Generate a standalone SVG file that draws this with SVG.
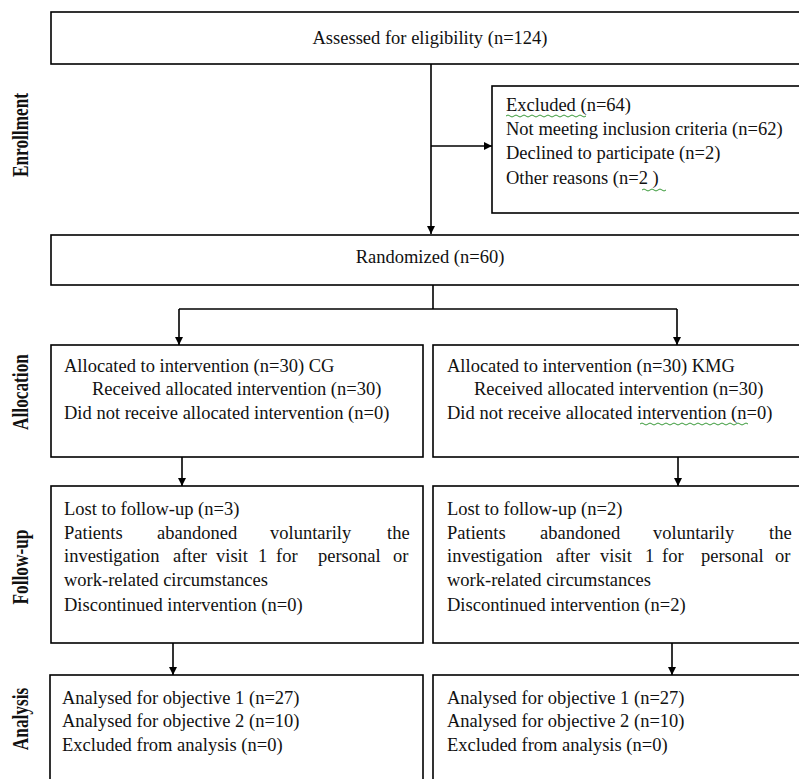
<svg xmlns="http://www.w3.org/2000/svg" width="799" height="779" viewBox="0 0 799 779">
<style>
.box{fill:#fff;stroke:#000;stroke-width:1.6}
.t{font-family:"Liberation Serif","Times New Roman",serif;font-size:18.5px;fill:#111}
.c{text-anchor:middle}
.lbl{font-family:"Liberation Serif","Times New Roman",serif;font-size:24px;font-weight:bold;fill:#111;text-anchor:middle}
.ln{fill:none;stroke:#000;stroke-width:1.6}
.sq{fill:none;stroke:#3a9a3a;stroke-width:1}
</style>
<defs>
<marker id="ah" markerWidth="8" markerHeight="8" refX="8" refY="4" orient="auto" markerUnits="userSpaceOnUse">
<path d="M0,0 L8,4 L0,8 Z" fill="#000"/>
</marker>
</defs>
<rect width="799" height="779" fill="#fff"/>

<g id="labels">
<text class="lbl" transform="translate(28,135) rotate(-90) scale(0.72,1)">Enrollment</text>
<text class="lbl" transform="translate(28,392) rotate(-90) scale(0.72,1)">Allocation</text>
<text class="lbl" transform="translate(28,567) rotate(-90) scale(0.72,1)">Follow-up</text>
<text class="lbl" transform="translate(28,719) rotate(-90) scale(0.72,1)">Analysis</text>
</g>

<g id="connectors">
<line class="ln" x1="431" y1="64" x2="431" y2="234" marker-end="url(#ah)"/>
<line class="ln" x1="431" y1="146" x2="492" y2="146" marker-end="url(#ah)"/>
<line class="ln" x1="433" y1="285" x2="433" y2="309"/>
<line class="ln" x1="179" y1="309" x2="677" y2="309"/>
<line class="ln" x1="179" y1="309" x2="179" y2="345" marker-end="url(#ah)"/>
<line class="ln" x1="677" y1="309" x2="677" y2="345" marker-end="url(#ah)"/>
<line class="ln" x1="182" y1="457" x2="182" y2="486" marker-end="url(#ah)"/>
<line class="ln" x1="678" y1="457" x2="678" y2="486" marker-end="url(#ah)"/>
<line class="ln" x1="173" y1="643" x2="173" y2="675" marker-end="url(#ah)"/>
<line class="ln" x1="672" y1="643" x2="672" y2="675" marker-end="url(#ah)"/>
</g>

<g id="assessed">
<rect class="box" x="51" y="12" width="760" height="52"/>
<text class="t c" x="430" y="44">Assessed for eligibility (n=124)</text>
</g>

<g id="excluded">
<rect class="box" x="492" y="86" width="320" height="127"/>
<text class="t" x="506" y="111">Excluded  (n=64)</text>
<text class="t" x="506" y="135">Not meeting inclusion criteria (n=62)</text>
<text class="t" x="506" y="159">Declined to participate (n=2)</text>
<text class="t" x="506" y="184">Other reasons (n=2 )</text>
<path class="sq" d="M506,116 q2,-2 4,0 t4,0 t4,0 t4,0 t4,0 t4,0 t4,0 t4,0 t4,0 t4,0 t4,0 t4,0 t4,0 t4,0 t4,0 t4,0 t4,0 t4,0 t4,0 t4,0"/>
<path class="sq" d="M642,190 q2,-2 4,0 t4,0 t4,0 t4,0 t4,0 t4,0"/>
</g>

<g id="randomized">
<rect class="box" x="51" y="235" width="760" height="50"/>
<text class="t c" x="430" y="263">Randomized (n=60)</text>
</g>

<g id="alloc-cg">
<rect class="box" x="51" y="345" width="372" height="112"/>
<text class="t" x="64" y="372">Allocated  to intervention  (n=30) CG</text>
<text class="t" x="92" y="395">Received  allocated  intervention  (n=30)</text>
<text class="t" x="64" y="419">Did not receive  allocated  intervention  (n=0)</text>
</g>

<g id="alloc-kmg">
<rect class="box" x="433" y="345" width="380" height="112"/>
<text class="t" x="447" y="372">Allocated  to intervention  (n=30) KMG</text>
<text class="t" x="474" y="395">Received  allocated  intervention  (n=30)</text>
<text class="t" x="447" y="419">Did not receive  allocated  intervention   (n=0)</text>
<path class="sq" d="M640,424 q2,-2 4,0 t4,0 t4,0 t4,0 t4,0 t4,0 t4,0 t4,0 t4,0 t4,0 t4,0 t4,0 t4,0 t4,0 t4,0 t4,0 t4,0 t4,0 t4,0 t4,0 t4,0 t4,0 t4,0 t4,0 t4,0 t4,0 t4,0"/>
</g>

<g id="followup-cg">
<rect class="box" x="51" y="486" width="372" height="157"/>
<text class="t" x="64" y="515">Lost to follow-up (n=3)</text>
<text class="t" y="539"><tspan x="64">Patients</tspan><tspan x="157">abandoned</tspan><tspan x="270">voluntarily</tspan><tspan x="387">the</tspan></text>
<text class="t" y="562"><tspan x="64">investigation</tspan><tspan x="173">after</tspan><tspan x="216">visit</tspan><tspan x="258">1</tspan><tspan x="276">for</tspan><tspan x="318">personal</tspan><tspan x="393">or</tspan></text>
<text class="t" x="64" y="586">work-related circumstances</text>
<text class="t" x="64" y="611">Discontinued intervention (n=0)</text>
</g>

<g id="followup-kmg">
<rect class="box" x="433" y="486" width="380" height="157"/>
<text class="t" x="447" y="515">Lost to follow-up (n=2)</text>
<text class="t" y="539"><tspan x="447">Patients</tspan><tspan x="540">abandoned</tspan><tspan x="653">voluntarily</tspan><tspan x="769">the</tspan></text>
<text class="t" y="562"><tspan x="447">investigation</tspan><tspan x="556">after</tspan><tspan x="600">visit</tspan><tspan x="645">1</tspan><tspan x="662">for</tspan><tspan x="701">personal</tspan><tspan x="775">or</tspan></text>
<text class="t" x="447" y="586">work-related circumstances</text>
<text class="t" x="447" y="611">Discontinued intervention (n=2)</text>
</g>

<g id="analysis-cg">
<rect class="box" x="50" y="675" width="373" height="130"/>
<text class="t" x="62" y="704">Analysed for objective 1 (n=27)</text>
<text class="t" x="62" y="727">Analysed for objective 2 (n=10)</text>
<text class="t" x="62" y="751">Excluded from analysis (n=0)</text>
</g>

<g id="analysis-kmg">
<rect class="box" x="433" y="675" width="380" height="130"/>
<text class="t" x="447" y="704">Analysed for objective 1 (n=27)</text>
<text class="t" x="447" y="727">Analysed for objective 2 (n=10)</text>
<text class="t" x="447" y="751">Excluded from analysis (n=0)</text>
</g>
</svg>
